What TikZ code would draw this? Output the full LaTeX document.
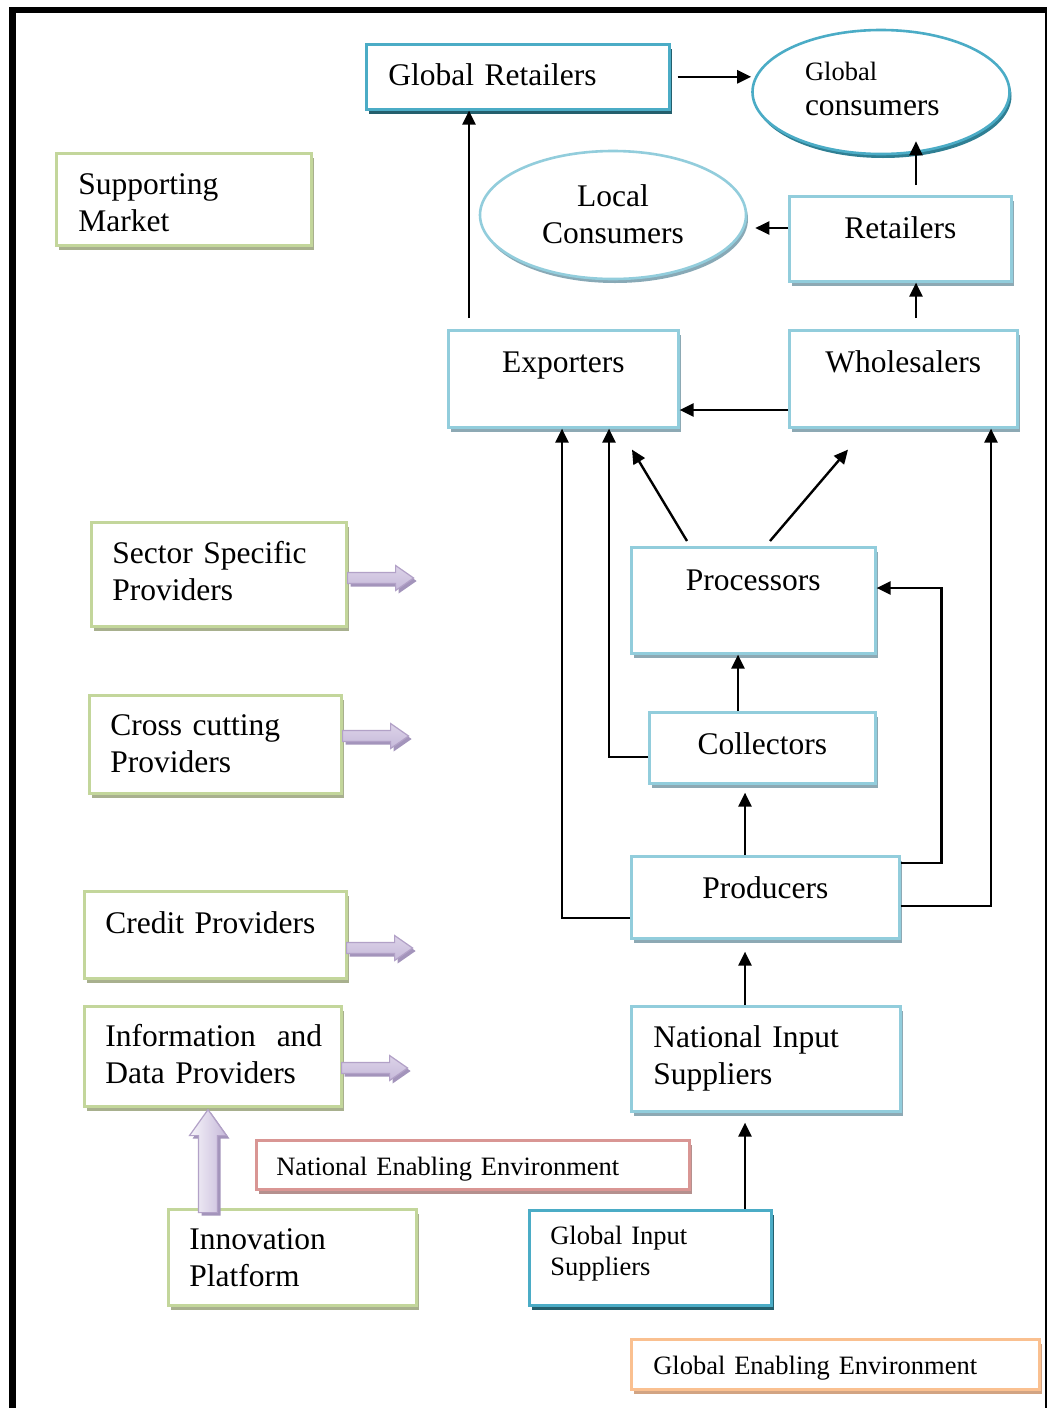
\documentclass[tikz,border=0pt]{standalone}
\usepackage{fontspec}
\setmainfont{Liberation Serif}
\usetikzlibrary{shapes.geometric,shadows,arrows.meta}

\definecolor{tealline}{HTML}{4BACC6}
\definecolor{tealshade}{HTML}{245F6D}
\definecolor{tealrim}{HTML}{2F7F93}
\definecolor{blueline}{HTML}{92CDDC}
\definecolor{blueshade}{HTML}{8DA9B4}
\definecolor{bluerim}{HTML}{88A9B6}
\definecolor{greenline}{HTML}{C3D69B}
\definecolor{greenshade}{HTML}{A8B08E}
\definecolor{redline}{HTML}{D99694}
\definecolor{redshade}{HTML}{B5908E}
\definecolor{orangeline}{HTML}{FAC090}
\definecolor{orangeshade}{HTML}{D2A483}
\definecolor{lavline}{HTML}{B2A1C7}
\definecolor{lavlight}{HTML}{F7F5FA}
\definecolor{lavmid}{HTML}{DCD3E8}
\definecolor{lavdark}{HTML}{C6B9DA}
\definecolor{lavshade}{HTML}{A394BB}

\newcommand\bigtxt{\fontsize{31.5pt}{37pt}\selectfont}
\newcommand\smalltxt{\fontsize{26.5pt}{31pt}\selectfont}

\tikzset{
  card/.style={draw=#1line, fill=white, line width=2.6pt, inner ysep=0pt,
    anchor=north west, font=\bigtxt, align=left,
    drop shadow={shadow xshift=3pt, shadow yshift=-5pt, fill=#1shade, opacity=1}},
  oval/.style={ellipse, draw=#1line, fill=white, line width=2.6pt, inner sep=0pt,
    font=\bigtxt,
    drop shadow={shadow xshift=2pt, shadow yshift=-4pt, fill=#1rim, opacity=1}},
  conn/.style={line width=2.4pt, line join=miter,
    -{Triangle[length=14pt,width=13pt]}},
  fatbody/.style={draw=lavline, line width=1.2pt},
  pics/fatright/.style={code={
    \fill[lavshade, shift={(3,3)}] (0,-5.5) -- (48,-5.5) -- (48,-12.5) -- (66,0)
      -- (48,12.5) -- (48,5.5) -- (0,5.5) -- cycle;
    \draw[fatbody, top color=lavmid, middle color=lavlight, bottom color=lavdark]
      (0,-5.5) -- (48,-5.5) -- (48,-12.5) -- (66,0)
      -- (48,12.5) -- (48,5.5) -- (0,5.5) -- cycle;
  }},
  pics/fatup/.style={code={
    \fill[lavshade, shift={(3,3)}] (0,0) -- (18.5,26) -- (9.5,26) -- (9.5,103)
      -- (-9.5,103) -- (-9.5,26) -- (-18.5,26) -- cycle;
    \draw[fatbody, left color=lavlight, right color=lavdark]
      (0,0) -- (18.5,26) -- (9.5,26) -- (9.5,103)
      -- (-9.5,103) -- (-9.5,26) -- (-18.5,26) -- cycle;
  }},
}

\begin{document}
\begin{tikzpicture}[x=1pt, y=-1pt]
  \useasboundingbox (0,0) rectangle (1047,1408);
  \fill[white] (0,0) rectangle (1047,1408);

  % page frame
  \fill[black] (8.5,7) rectangle (15.5,1408);
  \fill[black] (8.5,7) rectangle (1046.5,13);
  \fill[black] (1044.5,7) rectangle (1046.5,1408);

  % market chain
  \node[card=teal, text width=259pt, inner xsep=22pt, text height=41pt, text depth=24pt]
    (gret) at (365,43) {Global Retailers};
  \node[oval=teal, minimum width=257pt, minimum height=124pt, align=left,
        text width=152pt, text height=20pt, text depth=44pt]
    (gcons) at (881,92) {{\smalltxt Global}\\[-2pt]consumers};
  \node[oval=blue, minimum width=266pt, minimum height=128pt, align=center,
        text width=170pt, text height=22pt, text depth=40pt]
    (lcons) at (613,215) {Local\\Consumers};
  \node[card=blue, align=center, text width=202pt, inner xsep=10pt, text height=42pt, text depth=43pt]
    (ret) at (788,195) {Retailers};
  \node[card=blue, align=center, text width=210pt, inner xsep=10pt, text height=42pt, text depth=55pt]
    (exp) at (447,329) {Exporters};
  \node[card=blue, align=center, text width=208pt, inner xsep=10pt, text height=42pt, text depth=55pt]
    (whole) at (788,329) {Wholesalers};
  \node[card=blue, align=center, text width=224pt, inner xsep=10pt, text height=43pt, text depth=63pt]
    (proc) at (630,546) {Processors};
  \node[card=blue, align=center, text width=206pt, inner xsep=10pt, text height=42pt, text depth=29pt]
    (coll) at (648,711) {Collectors};
  \node[card=blue, align=center, text width=248pt, inner xsep=10pt, text height=42pt, text depth=40pt]
    (prodr) at (630,855) {Producers};
  \node[card=blue, text width=225pt, inner xsep=22pt, text height=41pt, text depth=64pt]
    (nis) at (630,1005) {National Input\\Suppliers};
  \node[card=teal, font=\smalltxt, text width=200pt, inner xsep=21pt, text height=34pt, text depth=61pt]
    (gis) at (528,1209) {Global Input\\Suppliers};

  % enabling environments
  \node[card=red, font=\smalltxt, text width=393pt, inner xsep=20pt, text height=35pt, text depth=14pt]
    (nee) at (255,1139) {National Enabling Environment};
  \node[card=orange, font=\smalltxt, text width=364pt, inner xsep=22pt, text height=35pt, text depth=15pt]
    (gee) at (630,1338) {Global Enabling Environment};

  % supporting market
  \node[card=green, text width=211pt, inner xsep=22pt, text height=41pt, text depth=51pt]
    (supp) at (55,152) {Supporting\\Market};
  \node[card=green, text width=213pt, inner xsep=21pt, text height=41pt, text depth=63pt]
    (ssp) at (90,521) {Sector Specific\\Providers};
  \node[card=green, text width=210pt, inner xsep=21pt, text height=40pt, text depth=58pt]
    (ccp) at (88,694) {Cross cutting\\Providers};
  \node[card=green, text width=220pt, inner xsep=21pt, text height=42pt, text depth=45pt]
    (crp) at (83,890) {Credit Providers};
  \node[card=green, text width=215pt, inner xsep=21pt, text height=40pt, text depth=60pt]
    (idp) at (83,1005) {Information~~and\\Data Providers};
  \node[card=green, text width=206pt, inner xsep=21pt, text height=40pt, text depth=56pt]
    (inno) at (167,1208) {Innovation\\Platform};

  % block arrows of the supporting market
  \pic at (ssp.east |- 0,578) {fatright};
  \pic at (ccp.east |- 0,736) {fatright};
  \pic at ([xshift=-1pt]crp.east |- 0,948) {fatright};
  \pic at ([xshift=-1pt]idp.east |- 0,1068) {fatright};
  \pic at ([yshift=-2pt]idp.south -| 208,0) {fatup};

  % flows along the chain
  \draw[conn] ([xshift=7pt]gret.east) -- (gret.east -| gcons.west);
  \draw[conn] ([yshift=11pt]exp.north -| 469,0) -- (gret.south -| 469,0);
  \draw[conn] ([yshift=10pt]ret.north -| 916,0) -- ([yshift=14pt]gcons.south -| 916,0);
  \draw[conn] (ret.west |- 0,228) -- ([xshift=8pt]lcons.east |- 0,228);
  \draw[conn] ([yshift=11pt]whole.north -| 916,0) -- (ret.south -| 916,0);
  \draw[conn] (whole.west |- 0,410) -- (exp.east |- 0,410);
  \draw[conn] ([yshift=5pt]proc.north -| 687,0) -- ([yshift=-21pt]exp.south -| 632,0);
  \draw[conn] ([yshift=5pt]proc.north -| 770,0) -- ([yshift=-21pt]whole.south -| 848,0);
  \draw[conn] (coll.north -| 738,0) -- (proc.south -| 738,0);
  \draw[conn] (coll.west |- 0,757) -| (exp.south -| 609,0);
  \draw[conn] (prodr.north -| 745,0) -- ([yshift=-8pt]coll.south -| 745,0);
  \draw[conn] (prodr.west |- 0,918) -| (exp.south -| 562,0);
  \draw[conn] (prodr.east |- 0,863) -- ++(41,0) |- (proc.east |- 0,588);
  \draw[conn] (prodr.east |- 0,906) -| (whole.south -| 991,0);
  \draw[conn] (nis.north -| 745,0) -- ([yshift=-12pt]prodr.south -| 745,0);
  \draw[conn] (gis.north -| 745,0) -- ([yshift=-10pt]nis.south -| 745,0);
\end{tikzpicture}
\end{document}
